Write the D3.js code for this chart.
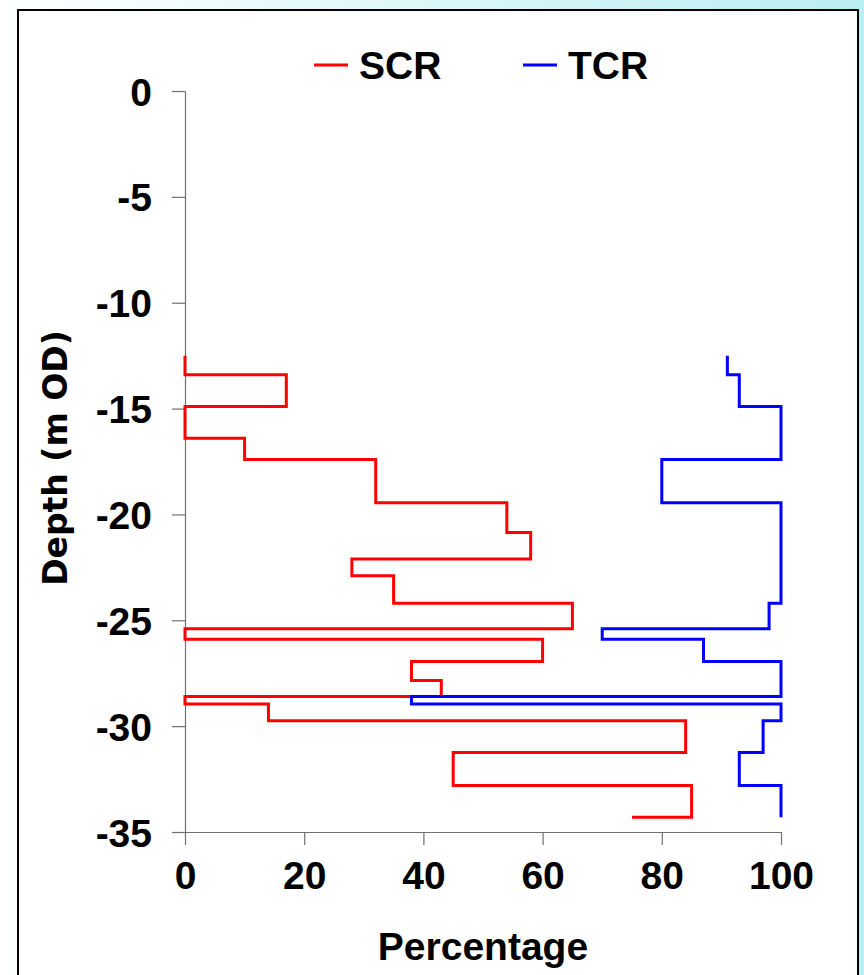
<!DOCTYPE html>
<html>
<head>
<meta charset="utf-8">
<script src="https://cdn.jsdelivr.net/npm/d3@7"></script>
<style>
  html, body { margin: 0; padding: 0; }
  body { width: 864px; height: 975px; overflow: hidden; }
</style>
</head>
<body>
<div id="chart-area"></div>
<script>
// depth boundaries (m OD) and the value held between boundary i and i+1
const scrDepth = [-12.5, -13.4, -14.9, -16.4, -17.4, -19.45, -20.85, -22.1, -22.9, -24.2, -25.4,
    -25.9, -26.95, -27.85, -28.6, -28.95, -29.75, -31.25, -32.8, -34.3, -34.3];
const scrValue = [0, 17, 0, 10, 32, 54, 58, 28, 35, 65, 0, 60, 38, 43, 0, 14, 84, 45, 85, 75];

const tcrDepth = [-12.5, -13.4, -14.9, -17.4, -19.45, -24.2, -25.4, -25.9, -26.95, -28.6, -28.95,
    -29.75, -31.25, -32.8, -34.3];
const tcrValue = [91, 93, 100, 80, 100, 98, 70, 87, 100, 38, 100, 97, 93, 100];

const seriesNames = ['SCR', 'TCR'];
const seriesColors = ['#ff0000', '#0000ff'];
const xTicks = [0, 20, 40, 60, 80, 100];
const yTicks = [0, -5, -10, -15, -20, -25, -30, -35];

const W = 864, H = 975;
const font = '"Liberation Sans", Arial, sans-serif';

const svg = d3.select('#chart-area')
    .append('svg')
    .attr('width', W)
    .attr('height', H);

const grad = svg.append('defs').append('linearGradient')
    .attr('id', 'bg')
    .attr('x1', '0%').attr('x2', '100%').attr('y1', '0%').attr('y2', '0%');
grad.append('stop').attr('offset', '0%').attr('stop-color', '#ffffff');
grad.append('stop').attr('offset', '100%').attr('stop-color', '#b9eef2');

svg.append('rect').attr('width', W).attr('height', H).attr('fill', 'url(#bg)');

svg.append('rect')
    .attr('x', 18).attr('y', 10)
    .attr('width', 840).attr('height', 990)
    .attr('fill', '#ffffff')
    .attr('stroke', '#000000')
    .attr('stroke-width', 2);

const xScale = d3.scaleLinear().domain([0, 100]).range([185, 781]);
const yScale = d3.scaleLinear().domain([-35, 0]).range([832, 91]);

// axes
const xAxis = svg.append('g')
    .attr('transform', 'translate(0,' + yScale(-35) + ')')
    .call(d3.axisBottom(xScale).tickValues(xTicks).tickSize(13).tickSizeOuter(0).tickPadding(16));

// plain hyphen for negatives, as in the original
const yAxis = svg.append('g')
    .attr('transform', 'translate(' + xScale(0) + ',0)')
    .call(d3.axisLeft(yScale).tickValues(yTicks).tickSize(13).tickSizeOuter(0).tickPadding(20)
        .tickFormat(d => String(d)));

[xAxis, yAxis].forEach(a => {
    a.select('.domain').attr('stroke', '#707070').attr('stroke-width', 1.2);
    a.selectAll('.tick line').attr('stroke', '#707070').attr('stroke-width', 1.2);
    a.selectAll('.tick text')
        .attr('fill', '#000')
        .attr('font-family', font)
        .attr('font-weight', 'bold')
        .attr('font-size', '39px');
});
yAxis.selectAll('.tick text').attr('dy', '0.36em');
xAxis.selectAll('.tick text').attr('dy', '0.71em');

// step lines
const stepPoints = (depth, value) => {
    const pts = [];
    value.forEach((v, i) => {
        pts.push([v, depth[i]]);
        pts.push([v, depth[i + 1]]);
    });
    return pts;
};

const line = d3.line()
    .x(d => xScale(d[0]))
    .y(d => yScale(d[1]));

const series = [stepPoints(scrDepth, scrValue), stepPoints(tcrDepth, tcrValue)];

svg.selectAll('path.series')
    .data(series)
    .enter()
    .append('path')
    .attr('class', 'series')
    .attr('fill', 'none')
    .attr('stroke', (d, i) => seriesColors[i])
    .attr('stroke-width', 3)
    .attr('d', line);

// titles
svg.append('text')
    .text('Percentage')
    .attr('x', 483)
    .attr('y', 960)
    .attr('text-anchor', 'middle')
    .attr('font-family', font)
    .attr('font-weight', 'bold')
    .attr('font-size', '39px');

svg.append('text')
    .text('Depth (m OD)')
    .attr('transform', 'translate(67,458) rotate(-90)')
    .attr('text-anchor', 'middle')
    .attr('font-family', '"DejaVu Sans", Verdana, sans-serif')
    .attr('font-weight', 'bold')
    .attr('font-size', '33px');

// legend
const legendX = [314, 523];
const legend = svg.selectAll('g.legend')
    .data(seriesNames)
    .enter()
    .append('g')
    .attr('class', 'legend')
    .attr('transform', (d, i) => 'translate(' + legendX[i] + ',65)');

legend.append('line')
    .attr('x1', 0).attr('x2', 34)
    .attr('stroke', (d, i) => seriesColors[i])
    .attr('stroke-width', 3);

legend.append('text')
    .text(d => d)
    .attr('x', 45)
    .attr('y', 14)
    .attr('font-family', font)
    .attr('font-weight', 'bold')
    .attr('font-size', '39px');
</script>
</body>
</html>
